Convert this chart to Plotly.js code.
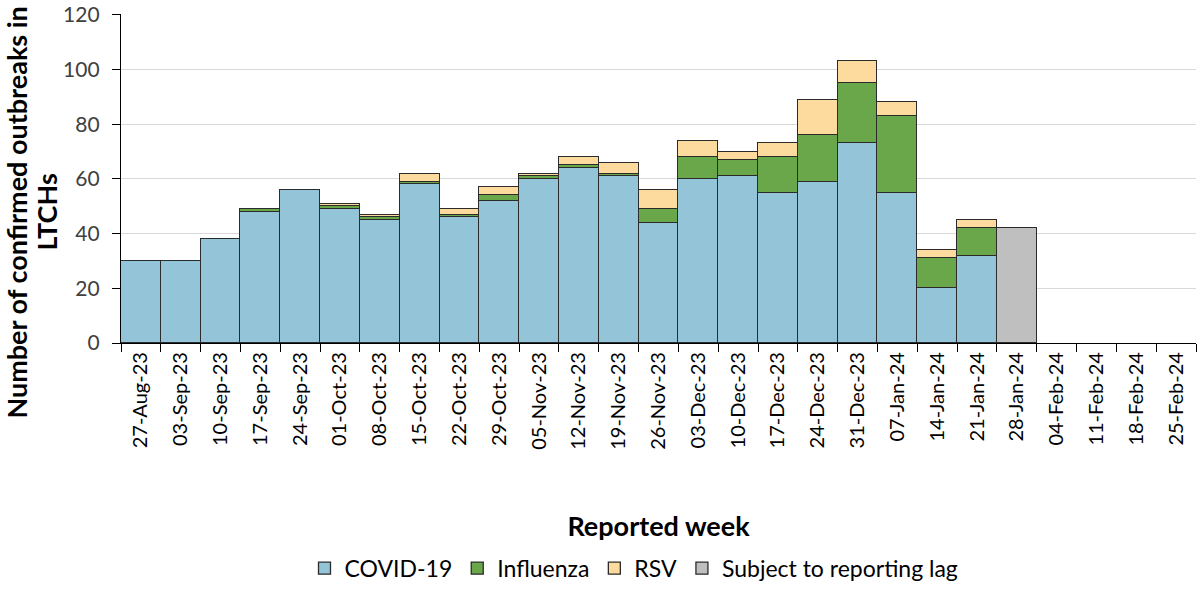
<!DOCTYPE html>
<html>
<head>
<meta charset="utf-8">
<script src="https://cdn.plot.ly/plotly-3.0.1.min.js"></script>
<style>html,body{margin:0;padding:0;background:#fff;}#chart{width:1197px;height:590px;}</style>
</head>
<body>
<div id="chart"></div>
<script>
const weeks = ["27-Aug-23","03-Sep-23","10-Sep-23","17-Sep-23","24-Sep-23","01-Oct-23","08-Oct-23","15-Oct-23","22-Oct-23","29-Oct-23","05-Nov-23","12-Nov-23","19-Nov-23","26-Nov-23","03-Dec-23","10-Dec-23","17-Dec-23","24-Dec-23","31-Dec-23","07-Jan-24","14-Jan-24","21-Jan-24","28-Jan-24","04-Feb-24","11-Feb-24","18-Feb-24","25-Feb-24"];
const covid     = [30,30,38,48,56,49,45,58,46,52,60,64,61,44,60,61,55,59,73,55,20,32,null,null,null,null,null];
const influenza = [0,0,0,1,0,1,1,1,1,2,1,1,1,5,8,6,13,17,22,28,11,10,null,null,null,null,null];
const rsv       = [0,0,0,0,0,1,1,3,2,3,1,3,4,7,6,3,5,13,8,5,3,3,null,null,null,null,null];
const lag       = [null,null,null,null,null,null,null,null,null,null,null,null,null,null,null,null,null,null,null,null,null,null,42,null,null,null,null];
const yTicks = [0,20,40,60,80,100,120];
const yTitleLines = ["Number of confirmed outbreaks in", "LTCHs"];

const FONT = "Lato, 'Liberation Sans', sans-serif";
const outline = {color:"#2b2b2b", width:1.3};
function bar(name, y, color){
  return {type:"bar", name:name, x:weeks, y:y, marker:{color:color, line:outline}, hoverinfo:"x+y+name"};
}
const data = [
  bar("COVID-19", covid, "#93C4D7"),
  bar("Influenza", influenza, "#6AA64A"),
  bar("RSV", rsv, "#FDDA9E"),
  bar("Subject to reporting lag", lag, "#BFBFBF")
];
const plotL = 121, plotW = 1075, plotT = 14, plotH = 333;
function px2paperX(px){ return (px - plotL) / plotW; }
function px2paperY(py){ return 1 - (py - plotT) / plotH; }
const annotations = yTitleLines.map((t, i) => ({
  text:"<b>" + t + "</b>", xref:"paper", yref:"paper",
  x:px2paperX(i === 0 ? 17 : 47), y:px2paperY(215), xanchor:"center", yanchor:"middle",
  textangle:-90, showarrow:false, font:{size:27, color:"#000", family:FONT}
}));
const layout = {
  width:1197, height:590,
  margin:{l:plotL, r:1, t:plotT, b:590 - plotT - plotH},
  barmode:"stack", bargap:0,
  paper_bgcolor:"#fff", plot_bgcolor:"#fff",
  font:{family:FONT, size:20, color:"#000"},
  showlegend:true,
  legend:{orientation:"h", x:px2paperX(634), xanchor:"center", y:px2paperY(575), yanchor:"middle",
          font:{size:23, color:"#000"}, traceorder:"normal", itemwidth:20, tracegroupgap:0},
  annotations:annotations,
  xaxis:{type:"category", categoryorder:"array", categoryarray:weeks,
         tickangle:-90, tickson:"boundaries", ticks:"outside", ticklen:8, tickcolor:"#000", tickwidth:1.3,
         showline:true, linecolor:"#000", linewidth:1.3, showgrid:false,
         tickfont:{size:20, color:"#000"},
         title:{text:"<b>Reported week</b>", font:{size:27, color:"#000"}, standoff:68},
         automargin:false, fixedrange:true},
  yaxis:{range:[0,120.36], tickvals:yTicks, ticks:"outside", ticklen:8, tickcolor:"#000", tickwidth:1.3,
         ticklabelstandoff:8, ticklabeloverflow:"allow",
         showline:true, linecolor:"#000", linewidth:1.3, showgrid:true, gridcolor:"#D9D9D9", gridwidth:1.3,
         zeroline:false, tickfont:{size:21, color:"#404040"},
         automargin:false, fixedrange:true}
};
Plotly.newPlot("chart", data, layout, {displayModeBar:false});
</script>
</body>
</html>
